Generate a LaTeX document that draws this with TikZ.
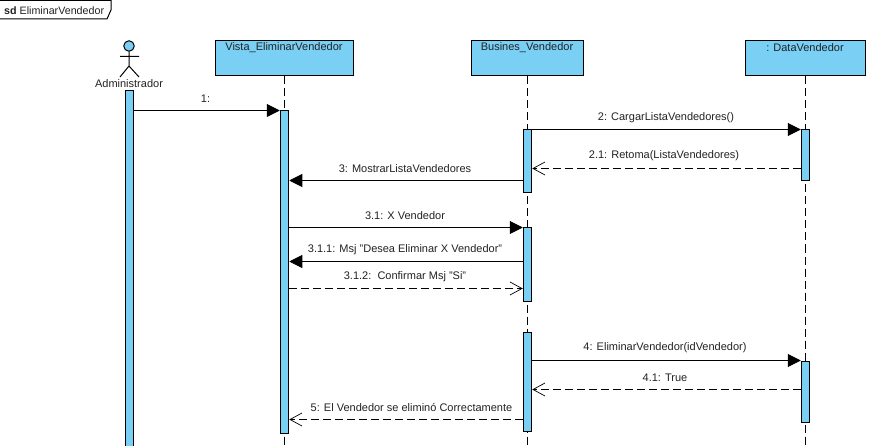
\documentclass[tikz,border=0pt]{standalone}
\usepackage{fontspec}
\setmainfont{Liberation Sans}
\usetikzlibrary{arrows.meta}
\definecolor{umlblue}{HTML}{7ACFF5}
\definecolor{umltext}{HTML}{222222}
\tikzset{
  x=1pt,y=-1pt,
  base/.style={font=\fontsize{11}{12}\selectfont,text=umltext,inner sep=0pt},
  lifebox/.style={draw=black,fill=umlblue,line width=1pt,minimum height=35pt,anchor=north,inner sep=0pt},
  lifetitle/.style={base,anchor=center},
  lifeline/.style={draw=black,line width=1pt,dash pattern=on 8pt off 4pt},
  activation/.style={draw=black,fill=umlblue,line width=1pt,minimum width=8.5pt,inner sep=0pt,anchor=north},
  msgcall/.style={draw=black,line width=1pt,-{Triangle[length=13pt,width=13pt]}},
  msgreturn/.style={draw=black,line width=1pt,dash pattern=on 8pt off 4pt,-{Straight Barb[length=12pt,width=13pt,line width=0.7pt]}},
  msglabel/.style={base,anchor=center},
}
\begin{document}
\begin{tikzpicture}
\useasboundingbox (0,0) rectangle (877,446);
% frame tab
\draw[line width=1pt,fill=white] (0,0.5) -- (111,0.5) -- (111,10) -- (107,19) -- (0,19);
\node[base,anchor=west,font=\fontsize{10.7}{12}\selectfont] (frame) at (4,10.5) {\textbf{sd} EliminarVendedor};
% lifeline boxes
\node[lifebox,minimum width=138pt] (vbox) at (284,40.5) {};
\node[lifebox,minimum width=112pt] (bbox) at (527,40.5) {};
\node[lifebox,minimum width=120pt] (dbox) at (805,40.5) {};
\node[lifetitle] (vt) at (284,48) {Vista\_EliminarVendedor};
\node[lifetitle] (bt) at (527,48) {Busines\_Vendedor};
\node[lifetitle] (dt) at (805,48) {: DataVendedor};
% lifeline ends
\coordinate (vend) at (284,446);
\coordinate (bend) at (527,446);
\coordinate (dend) at (805,446);
\draw[lifeline] (vbox.south) -- (vend);
\draw[lifeline] (bbox.south) -- (bend);
\draw[lifeline] (dbox.south) -- (dend);
% actor
\node[draw=black,fill=umlblue,circle,line width=1pt,minimum size=10.5pt,inner sep=0pt] (head) at (129,46) {};
\coordinate (hip) at (129,66);
\coordinate (armL) at (120,56.5);
\coordinate (armR) at (139,56.5);
\coordinate (legL) at (120,77);
\coordinate (legR) at (139,77);
\draw[line width=1pt] (head.south) -- (hip) (armL) -- (armR) (legL) -- (hip) -- (legR);
\node[base] (actor) at (129,83.5) {Administrador};
% activations
\node[activation,minimum height=356pt] (a0) at (129.5,90.5) {};
\node[activation,minimum height=322pt] (a1) at (284.5,110.5) {};
\node[activation,minimum height=62.5pt] (b1) at (527.5,129.5) {};
\node[activation,minimum height=73.5pt] (b2) at (527.5,227.5) {};
\node[activation,minimum height=98.5pt] (b3) at (527.5,332) {};
\node[activation,minimum height=50.5pt] (d1) at (805.5,129.5) {};
\node[activation,minimum height=61.5pt] (d2) at (805.5,360.5) {};
% messages
\draw[msgcall] (a0.east |- 0,110.5) -- (a1.west |- 0,110.5);
\draw[msgcall] (b1.east |- 0,129.5) -- (d1.west |- 0,129.5);
\draw[msgreturn] (d1.west |- 0,168.5) -- (b1.east |- 0,168.5);
\draw[msgcall] (b1.west |- 0,180.5) -- (a1.east |- 0,180.5);
\draw[msgcall] (a1.east |- 0,227.5) -- (b2.west |- 0,227.5);
\draw[msgcall] (b2.west |- 0,261.5) -- (a1.east |- 0,261.5);
\draw[msgreturn] (a1.east |- 0,288.5) -- (b2.west |- 0,288.5);
\draw[msgcall] (b3.east |- 0,360.5) -- (d2.west |- 0,360.5);
\draw[msgreturn] (d2.west |- 0,389.5) -- (b3.east |- 0,389.5);
\draw[msgreturn] (b3.west |- 0,419.5) -- (a1.east |- 0,419.5);
% labels
\node[msglabel] (l1) at (205.5,99) {1:};
\node[msglabel] (l2) at (666,117.5) {2: CargarListaVendedores()};
\node[msglabel] (l21) at (664,156) {2.1: Retoma(ListaVendedores)};
\node[msglabel] (l3) at (405,168.5) {3: MostrarListaVendedores};
\node[msglabel] (l31) at (405,215.5) {3.1: X Vendedor};
\node[msglabel] (l311) at (405,249.5) {3.1.1: Msj "Desea Eliminar X Vendedor"};
\node[msglabel] (l312) at (405,276.5) {3.1.2:\ \ Confirmar Msj "Si"};
\node[msglabel] (l4) at (665,347.5) {4: EliminarVendedor(idVendedor)};
\node[msglabel] (l41) at (665,377.5) {4.1: True};
\node[msglabel] (l5) at (411.5,407.5) {5: El Vendedor se eliminó Correctamente};
\end{tikzpicture}
\end{document}
